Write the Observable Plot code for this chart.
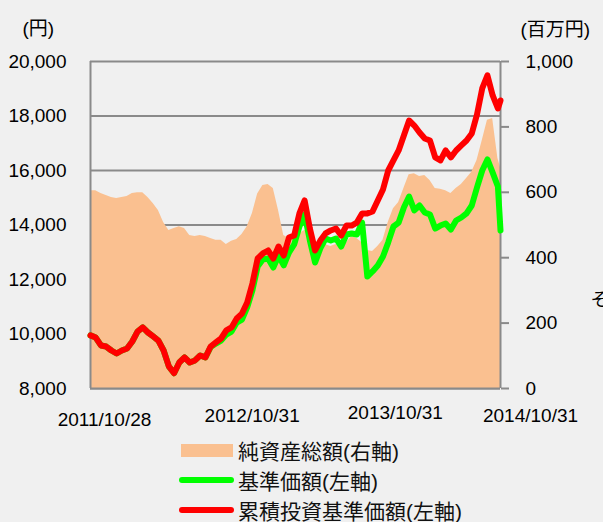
<!DOCTYPE html>
<html><head><meta charset="utf-8">
<script src="https://cdn.jsdelivr.net/npm/d3@7"></script>
<script src="https://cdn.jsdelivr.net/npm/@observablehq/plot@0.6"></script>
<style>
html,body{margin:0;padding:0;background:#f0f0f0;}
#chart{width:603px;height:435px;}
.legend{font-family:'Liberation Sans','Noto Sans CJK JP',sans-serif;font-size:21px;color:#111;}
.row{display:flex;align-items:center;height:30px;padding-left:179px;}
.sw{width:55px;margin-right:4px;display:flex;align-items:center;justify-content:center;}
</style></head><body>
<div id="chart"></div>
<div class="legend" id="legend"></div>
<script>
// ---- data ----
const dates = [
"2011-10-28","2011-11-11","2011-11-25","2011-12-09","2011-12-23","2012-01-06","2012-01-20","2012-02-03","2012-02-17","2012-03-02",
"2012-03-16","2012-03-30","2012-04-13","2012-04-27","2012-05-11","2012-05-25","2012-06-08","2012-06-22","2012-07-06","2012-07-20",
"2012-08-03","2012-08-17","2012-08-31","2012-09-14","2012-09-28","2012-10-12","2012-10-26","2012-11-09","2012-11-23","2012-12-07",
"2012-12-21","2013-01-04","2013-01-18","2013-02-01","2013-02-15","2013-03-01","2013-03-15","2013-03-29","2013-04-12","2013-04-26",
"2013-05-10","2013-05-24","2013-06-07","2013-06-21","2013-07-05","2013-07-19","2013-08-02","2013-08-16","2013-08-30","2013-09-13",
"2013-09-27","2013-10-11","2013-10-25","2013-11-08","2013-11-22","2013-12-06","2013-12-20","2014-01-03","2014-01-17","2014-01-31",
"2014-02-14","2014-02-28","2014-03-14","2014-03-28","2014-04-11","2014-04-25","2014-05-09","2014-05-23","2014-06-06","2014-06-20",
"2014-07-04","2014-07-18","2014-08-01","2014-08-15","2014-08-29","2014-09-12","2014-09-26","2014-10-10","2014-10-24","2014-10-31"
];
// 純資産総額 (百万円, right axis)
const netAssets = [
605,605,596,590,584,581,584,587,596,599,
599,584,566,544,508,483,489,495,489,468,
465,468,465,459,453,453,440,450,456,471,
495,535,595,621,624,612,544,468,459,465,
474,483,477,453,437,440,434,440,431,446,
465,459,446,422,419,434,453,508,550,569,
612,654,657,648,651,636,612,609,605,596,
612,624,642,661,697,758,820,826,703,676
];
// 基準価額 (円, left axis)
const basePrice = [
9950,9870,9580,9540,9395,9285,9395,9470,9725,10090,
10240,10055,9910,9760,9395,8810,8560,8955,9140,8955,
9030,9210,9140,9520,9650,9760,9980,10090,10420,10530,
10975,11600,12475,12735,12770,12440,12880,12515,12990,13285,
13945,14385,13430,12625,13140,13505,13430,13505,13210,13650,
13690,13650,14090,12110,12295,12515,12845,13360,13945,14090,
14645,15045,14535,14715,14460,14385,13870,13980,14055,13835,
14165,14275,14425,14715,15375,16000,16405,15925,15415,13800
];
// 累積投資基準価額 (円, left axis)
const cumPrice = [
9950,9870,9580,9540,9395,9285,9395,9470,9725,10090,
10240,10055,9910,9760,9395,8810,8560,8955,9140,8955,
9030,9210,9140,9540,9690,9835,10130,10240,10570,10750,
11155,11855,12770,12955,13065,12770,13210,12880,13540,13615,
14425,14900,13870,13065,13430,13690,13800,13870,13615,13980,
13980,14090,14425,14425,14495,14900,15305,16000,16370,16735,
17285,17835,17650,17395,17175,17100,16480,16370,16735,16480,
16735,16920,17100,17360,18055,19010,19490,18755,18275,18570
];
const leftTicks = [8000,10000,12000,14000,16000,18000,20000];
const rightTicks = [0,200,400,600,800,1000];
const xTickDates = ["2011-10-28","2012-10-31","2013-10-31","2014-10-31"];
const xTickLabels = ["2011/10/28","2012/10/31","2013/10/31","2014/10/31"];
const seriesNames = ["純資産総額(右軸)","基準価額(左軸)","累積投資基準価額(左軸)"];
const leftUnit = "(円)";
const rightUnit = "(百万円)";
const strayText = "そ";

// ---- styling ----
const colors = ["#fac090","#00ff00","#ff0000"];
const gridColor = "#8a8a8a";
const labelDx = [14,24,31,30];
const labelDy = [37,33,30,33];

const L0 = leftTicks[0], L1 = leftTicks[leftTicks.length-1];
const R0 = rightTicks[0], R1 = rightTicks[rightTicks.length-1];
const toLeft = v => L0 + (v - R0) * (L1 - L0) / (R1 - R0);
const fromLeft = v => R0 + (v - L0) * (R1 - R0) / (L1 - L0);

const data = dates.map((d,i) => ({date: new Date(d), nav: netAssets[i], base: basePrice[i], cum: cumPrice[i]}));
const first = data[0].date, last = data[data.length-1].date;

const marks = [
  Plot.gridY(leftTicks, {stroke: gridColor, strokeOpacity: 1, strokeWidth: 2}),
  Plot.areaY(data, {x: "date", y1: L0, y2: d => toLeft(d.nav), fill: colors[0]}),
  Plot.ruleY([L0], {stroke: gridColor, strokeWidth: 2}),
  Plot.ruleX([first], {stroke: gridColor, strokeWidth: 2}),
  Plot.ruleX([last], {stroke: gridColor, strokeWidth: 2}),
  Plot.lineY(data, {x: "date", y: "base", stroke: colors[1], strokeWidth: 6, strokeLinejoin: "round", strokeLinecap: "round"}),
  Plot.lineY(data, {x: "date", y: "cum", stroke: colors[2], strokeWidth: 6, strokeLinejoin: "round", strokeLinecap: "round"}),
  Plot.axisY(leftTicks, {anchor: "left", tickSize: 0, tickPadding: 24, tickFormat: d3.format(",")}),
  Plot.axisY(rightTicks.map(toLeft), {anchor: "right", tickSize: 8, tickPadding: 17, stroke: gridColor, strokeWidth: 2, tickFormat: d => d3.format(",")(Math.round(fromLeft(d)))}),
  Plot.text([leftUnit], {text: d => d, frameAnchor: "top-left", dx: -68, dy: -40, textAnchor: "start", fontSize: 19, letterSpacing: 3}),
  Plot.text([rightUnit], {text: d => d, frameAnchor: "top-right", dx: 20, dy: -39, textAnchor: "start", fontSize: 19, letterSpacing: 3}),
  Plot.text([strayText], {text: d => d, frameAnchor: "right", dx: 90, dy: 75, textAnchor: "start", fontSize: 18})
];
xTickDates.forEach((d,i) => {
  marks.push(Plot.text([{date: new Date(d), label: xTickLabels[i]}], {x: "date", text: "label", frameAnchor: "bottom", dx: labelDx[i], dy: labelDy[i], fontSize: 19}));
});

const chart = Plot.plot({
  width: 603, height: 435,
  marginLeft: 90, marginRight: 103, marginTop: 61, marginBottom: 47,
  x: {type: "utc", domain: [first, last], axis: null},
  y: {domain: [L0, L1], axis: null},
  style: {fontFamily: "'Liberation Sans','Noto Sans CJK JP',sans-serif", fontSize: "19px", background: "#f0f0f0", color: "#000"},
  marks
});
document.getElementById("chart").appendChild(chart);

const legend = document.getElementById("legend");
seriesNames.forEach((name,i) => {
  const row = document.createElement("div"); row.className = "row";
  const sw = document.createElement("div"); sw.className = "sw";
  const s = document.createElement("div");
  if (i === 0) { s.style.cssText = `width:52px;height:13px;background:${colors[i]}`; }
  else { s.style.cssText = `width:55px;height:6px;border-radius:3px;background:${colors[i]}`; }
  sw.appendChild(s);
  const t = document.createElement("span"); t.textContent = name;
  row.appendChild(sw); row.appendChild(t);
  legend.appendChild(row);
});
</script></body></html>
